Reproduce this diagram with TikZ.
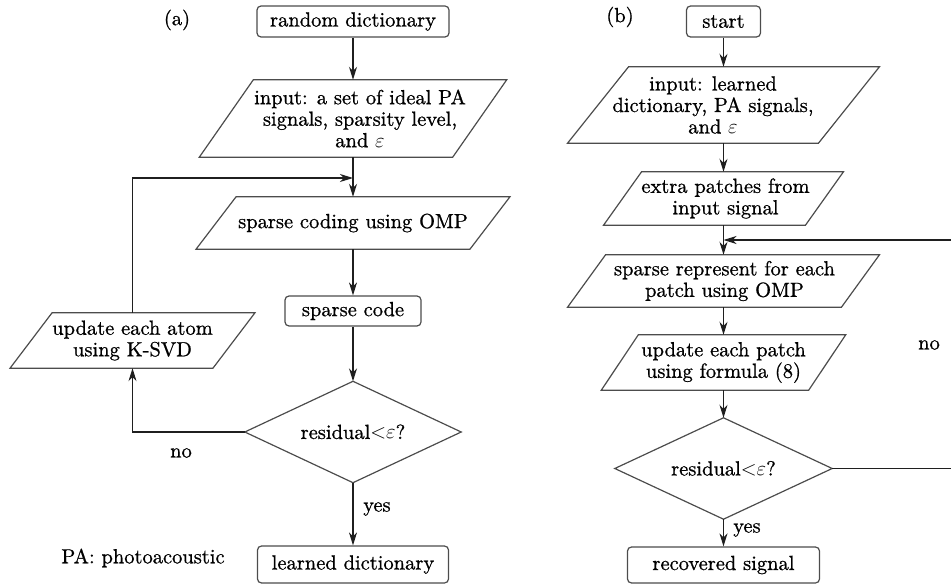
\documentclass[tikz,border=0pt]{standalone}
\usepackage{fontspec}
\setmainfont{lmroman10-regular.otf}[ItalicFont=lmroman10-italic.otf, BoldFont=lmroman10-bold.otf, FakeBold=0.8]
\usetikzlibrary{arrows.meta}
\tikzset{
  shapeline/.style={draw=black!70, line width=1.2pt},
  rbox/.style={shapeline, rounded corners=4pt, inner sep=0pt},
  para/.style={draw=none, inner sep=0pt, align=center},
  dia/.style={draw=none, inner sep=0pt, align=center},
  lbl/.style={inner sep=0pt},
  arr/.style={draw=black!88, line width=1.3pt, -{Stealth[length=13pt,width=8pt,inset=4pt]}}
}
% #1 optional offset of the shape from the text centre, #2 node, #3 half slant
\newcommand\drawpara[3][0]{%
  \draw[shapeline] ([xshift=#3pt+#1pt]#2.north west) -- ([xshift=#3pt+#1pt]#2.north east)
    -- ([xshift=-#3pt+#1pt]#2.south east) -- ([xshift=-#3pt+#1pt]#2.south west) -- cycle;}
\newcommand\drawdia[1]{%
  \draw[shapeline] (#1.north) -- (#1.east) -- (#1.south) -- (#1.west) -- cycle;}
\begin{document}
\begin{tikzpicture}[x=1pt,y=-1pt,font=\fontsize{20.5}{21.5}\selectfont]
\useasboundingbox (0,0) rectangle (951,585);

% ---------- panel (a) ----------
\node[lbl] (la) at (177,20) {(a)};
\node[rbox, minimum width=192pt, minimum height=31pt] (rd) at (353,21.5) {random dictionary};
\node[para, minimum width=253pt, minimum height=77pt] (ina) at (360,118.5) {input: a set of ideal PA\\signals, sparsity level,\\and $\varepsilon$};
\drawpara[-7]{ina}{27}
\node[para, minimum width=273.5pt, minimum height=52pt] (sca) at (353,223) {sparse coding using OMP};
\drawpara{sca}{20}
\node[rbox, minimum width=136pt, minimum height=30pt] (spc) at (353,311) {sparse code};
\node[dia, minimum width=216pt, minimum height=101pt] (da) at (353,432) {residual{$<$}$\varepsilon$?};
\drawdia{da}
\node[rbox, minimum width=191pt, minimum height=37pt] (ld) at (353,564.5) {learned dictionary};
\node[para, minimum width=202.5pt, minimum height=55pt] (upa) at (132.5,340.5) {update each atom\\using K-SVD};
\drawpara{upa}{21}
\node[lbl] (pa) at (143,558) {PA: photoacoustic};
\node[lbl] (noa) at (181,453) {no};
\node[lbl, anchor=west] (yesa) at (363,509) {yes};
\coordinate (ja) at (353,178);

\draw[arr] (rd) -- (rd |- ina.north);
\draw[arr] (sca |- ina.south) -- (sca);
\draw[arr] (sca) -- (spc);
\draw[arr] (spc) -- (da);
\draw[arr] (da) -- (ld);
\draw[arr] (da.west) -| (upa.south);
\draw[arr] (upa.north) |- (ja);

% ---------- panel (b) ----------
\node[lbl] (lb) at (620,17) {(b)};
\node[rbox, minimum width=74pt, minimum height=31pt] (st) at (723.5,21.5) {start};
\node[para, minimum width=250.5pt, minimum height=76pt] (inb) at (713,105) {input: learned\\dictionary, PA signals,\\and $\varepsilon$};
\drawpara[10.5]{inb}{30.5}
\node[para, minimum width=201.5pt, minimum height=53pt] (exb) at (725.5,198.5) {extra patches from\\input signal};
\drawpara[-2]{exb}{19}
\node[para, minimum width=273.5pt, minimum height=52pt] (srb) at (724.5,281) {sparse represent for each\\patch using OMP};
\drawpara[-1]{srb}{19}
\node[para, minimum width=207pt, minimum height=55pt] (upb) at (723.5,362.5) {update each patch\\using formula (8)};
\drawpara{upb}{18.5}
\node[dia, minimum width=217pt, minimum height=101pt] (db) at (723.5,468.5) {residual{$<$}$\varepsilon$?};
\drawdia{db}
\node[rbox, minimum width=192pt, minimum height=36pt] (rs) at (723.5,565) {recovered signal};
\node[lbl] (nob) at (929,345) {no};
\node[lbl, anchor=west] (yesb) at (733,530) {yes};
\coordinate (jb) at (723.5,240);
\coordinate (rc) at (952.5,240);

\draw[arr] (st) -- (st |- inb.north);
\draw[arr] (st |- inb.south) -- (st |- exb.north);
\draw[arr] (st |- exb.south) -- (st |- srb.north);
\draw[arr] (st |- srb.south) -- (upb);
\draw[arr] (upb) -- (db);
\draw[arr] (db) -- (rs);
\draw[arr] (db.east) -| (rc) -- (jb);
\end{tikzpicture}
\end{document}
